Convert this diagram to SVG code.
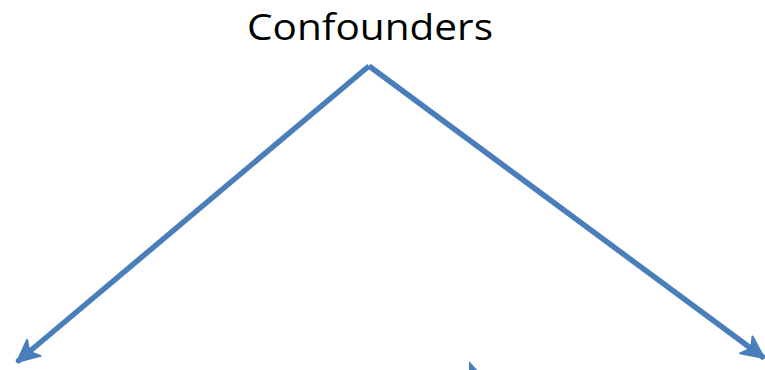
<svg xmlns="http://www.w3.org/2000/svg" width="765" height="370" viewBox="0 0 765 370">
<defs>
<style>
.lbl{font-family:"Open Sans","Liberation Sans",sans-serif;font-size:37px;fill:#000}
.edge{stroke:#4a7ebb;stroke-width:5.5;fill:none;stroke-linecap:butt;stroke-linejoin:miter}
</style>
<marker id="ah" viewBox="0 0 24 24" refX="23" refY="12" markerWidth="24" markerHeight="24" orient="auto" markerUnits="userSpaceOnUse">
<path d="M1,1.5 L23,12 L1,22.5 L7,12 Z" fill="#4a7ebb" stroke="#4a7ebb" stroke-width="2" stroke-linejoin="round"/>
</marker>
</defs>
<rect width="765" height="370" fill="#fff"/>
<g id="confounders">
<text class="lbl" x="370" y="40" text-anchor="middle" textLength="246" lengthAdjust="spacingAndGlyphs">Confounders</text>
</g>
<g id="connectors">
<path class="edge" d="M369,66 L17,362" marker-end="url(#ah)"/>
<path class="edge" d="M369,66 L764,358" marker-end="url(#ah)"/>
<path d="M469,361 L469,372 L479,372 Z" fill="#4a7ebb"/>
</g>
</svg>
